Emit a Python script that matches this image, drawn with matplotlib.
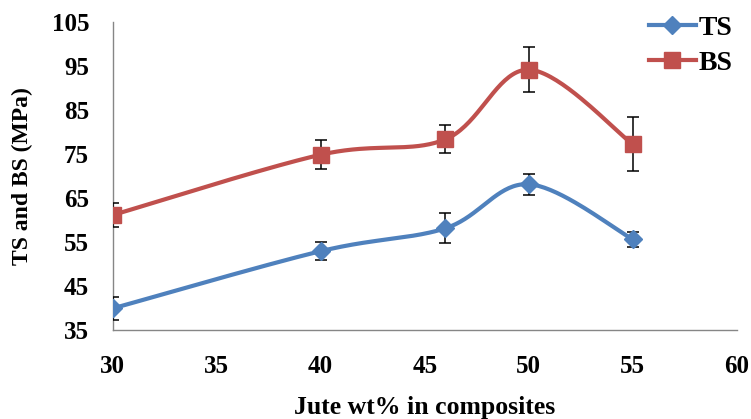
import numpy as np
import matplotlib
matplotlib.use("Agg")
import matplotlib.pyplot as plt
from matplotlib.lines import Line2D

# ---- data ----
jute_wt = [30, 40, 46, 50, 55]
ts_values = [39.9, 52.9, 58.1, 68.1, 55.6]
ts_errors = [2.6, 2.1, 3.4, 2.4, 1.7]
bs_values = [61.1, 74.8, 78.3, 94.1, 77.2]
bs_errors = [2.75, 3.3, 3.2, 5.1, 6.2]
x_ticks = [30, 35, 40, 45, 50, 55, 60]
y_ticks = [35, 45, 55, 65, 75, 85, 95, 105]
series_names = ["TS", "BS"]

BLUE = "#4F81BD"
RED = "#C0504D"
FONT = "Liberation Serif"


def smooth(xs, ys, n=40):
    """Excel-like smoothed line: Catmull-Rom -> cubic Bezier segments."""
    P = np.column_stack([xs, ys]).astype(float)
    out = []
    m = len(P)
    for i in range(m - 1):
        p0 = P[i - 1] if i > 0 else P[i]
        p1 = P[i]
        p2 = P[i + 1]
        p3 = P[i + 2] if i + 2 < m else P[i + 1]
        c1 = p1 + (p2 - p0) / 6.0
        c2 = p2 - (p3 - p1) / 6.0
        t = np.linspace(0, 1, n)[:, None]
        seg = ((1 - t) ** 3) * p1 + 3 * ((1 - t) ** 2) * t * c1 + 3 * (1 - t) * t ** 2 * c2 + t ** 3 * p2
        if i > 0:
            seg = seg[1:]
        out.append(seg)
    out = np.vstack(out)
    return out[:, 0], out[:, 1]


fig = plt.figure(figsize=(7.51, 4.19), dpi=100)
ax = fig.add_axes([0.150, 0.2124, 0.831, 0.7358])

for vals, errs, color, marker, ms in [
    (ts_values, ts_errors, BLUE, "D", 9.5),
    (bs_values, bs_errors, RED, "s", 11.5),
]:
    sx, sy = smooth(jute_wt, vals)
    ax.plot(sx, sy, color=color, lw=3.0, solid_capstyle="round", zorder=2)
    ax.errorbar(jute_wt, vals, yerr=errs, fmt="none", ecolor="black",
                elinewidth=1.1, capsize=4.5, capthick=1.1, zorder=3)
    ax.plot(jute_wt, vals, ls="none", marker=marker, ms=ms, color=color,
            markeredgecolor=color, zorder=4)

ax.set_xlim(30, 60)
ax.set_ylim(35, 105)
ax.set_xticks(x_ticks)
ax.set_yticks(y_ticks)
ax.set_xticklabels([str(v) for v in x_ticks], fontfamily=FONT, fontweight="bold", fontsize=18)
ax.set_yticklabels([str(v) for v in y_ticks], fontfamily=FONT, fontweight="bold", fontsize=18)
ax.tick_params(axis="both", length=0)
ax.tick_params(axis="x", pad=18)
ax.tick_params(axis="y", pad=17)

for s in ["top", "right"]:
    ax.spines[s].set_visible(False)
for s in ["left", "bottom"]:
    ax.spines[s].set_color("#868686")
    ax.spines[s].set_linewidth(1.0)

ax.set_xlabel("Jute wt% in composites", fontfamily=FONT, fontweight="bold", fontsize=18.5, labelpad=13)
ax.set_ylabel("TS and BS (MPa)", fontfamily=FONT, fontweight="bold", fontsize=17, labelpad=13)

handles = [
    Line2D([], [], color=BLUE, lw=3.0, marker="D", ms=9.5),
    Line2D([], [], color=RED, lw=3.0, marker="s", ms=11.5),
]
fig.legend(handles, series_names, loc="upper right", bbox_to_anchor=(0.99, 0.99),
           frameon=False, prop={"family": FONT, "weight": "bold", "size": 20},
           handlelength=1.7, handletextpad=0.1, labelspacing=0.35, borderaxespad=0)

fig.savefig("out.png", dpi=100)
